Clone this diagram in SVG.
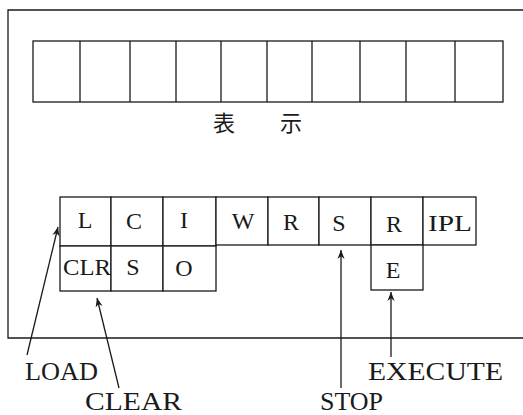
<svg xmlns="http://www.w3.org/2000/svg" width="523" height="415" viewBox="0 0 523 415">
<style>
.ln{fill:none;stroke:#1a1a1a;stroke-width:1.3}
.cell{fill:#fff;stroke:#1a1a1a;stroke-width:1.3}
.k{font-family:"Liberation Serif","Times New Roman",serif;font-size:24px;fill:#1a1a1a}
.m{text-anchor:middle}
.lab{font-family:"Liberation Serif","Times New Roman",serif;font-size:25px;fill:#1a1a1a}
.cjk{font-family:"Noto Sans CJK JP","Noto Sans CJK SC",sans-serif;font-size:22px;fill:#1a1a1a}
</style>
<defs>
<marker id="ah" viewBox="0 0 10 10" refX="10" refY="5" markerWidth="9" markerHeight="9" markerUnits="userSpaceOnUse" orient="auto">
<path d="M0,1 L10,5 L0,9 L3,5 Z" fill="#1a1a1a"/>
</marker>
</defs>
<rect width="523" height="415" fill="#fff"/>
<g id="frame"><path class="ln" d="M523,10 H8 V338 H523"/></g>
<g id="display">
<rect class="cell" x="33" y="41" width="470" height="61"/>
<path class="ln" d="M80,41V102M130,41V102M176,41V102M221,41V102M267,41V102M312,41V102M360,41V102M406,41V102M455,41V102"/>
<text class="cjk" x="213" y="131">表</text>
<text class="cjk" x="280" y="131">示</text>
</g>
<g id="keys">
<g id="key-L"><rect class="cell" x="60" y="197" width="51" height="49"/><text class="k m" x="85" y="228">L</text></g>
<g id="key-C"><rect class="cell" x="111" y="197" width="52" height="49"/><text class="k m" x="134" y="229">C</text></g>
<g id="key-I"><rect class="cell" x="163" y="197" width="53" height="49"/><text class="k m" x="184" y="228">I</text></g>
<g id="key-W"><rect class="cell" x="216" y="197" width="52" height="48"/><text class="k m" x="243" y="229">W</text></g>
<g id="key-R1"><rect class="cell" x="268" y="197" width="51" height="48"/><text class="k m" x="291" y="230">R</text></g>
<g id="key-S1"><rect class="cell" x="319" y="197" width="52" height="48"/><text class="k m" x="339" y="231">S</text></g>
<g id="key-R2"><rect class="cell" x="371" y="197" width="52" height="48"/><text class="k m" x="394" y="232">R</text></g>
<g id="key-IPL"><rect class="cell" x="423" y="197" width="53" height="48"/><text class="k" x="428" y="231" textLength="44" lengthAdjust="spacingAndGlyphs">IPL</text></g>
<g id="key-CLR"><rect class="cell" x="60" y="246" width="51" height="45"/><text class="k" x="63" y="275" textLength="48" lengthAdjust="spacingAndGlyphs">CLR</text></g>
<g id="key-S2"><rect class="cell" x="111" y="246" width="52" height="45"/><text class="k m" x="133" y="275">S</text></g>
<g id="key-O"><rect class="cell" x="163" y="246" width="53" height="45"/><text class="k m" x="184" y="276">O</text></g>
<g id="key-E"><rect class="cell" x="371" y="245" width="52" height="45"/><text class="k m" x="393" y="278">E</text></g>
</g>
<g id="connectors">
<line class="ln" x1="27" y1="355" x2="58" y2="227" marker-end="url(#ah)"/>
<line class="ln" x1="119" y1="388" x2="97" y2="298" marker-end="url(#ah)"/>
<line class="ln" x1="341" y1="388" x2="341" y2="250" marker-end="url(#ah)"/>
<line class="ln" x1="391" y1="357" x2="391" y2="292" marker-end="url(#ah)"/>
</g>
<g id="labels">
<text class="lab" x="25" y="380" textLength="73" lengthAdjust="spacingAndGlyphs">LOAD</text>
<text class="lab" x="85" y="410" textLength="97" lengthAdjust="spacingAndGlyphs">CLEAR</text>
<text class="lab" x="320" y="410" textLength="63" lengthAdjust="spacingAndGlyphs">STOP</text>
<text class="lab" x="368" y="380" textLength="135" lengthAdjust="spacingAndGlyphs">EXECUTE</text>
</g>
</svg>
